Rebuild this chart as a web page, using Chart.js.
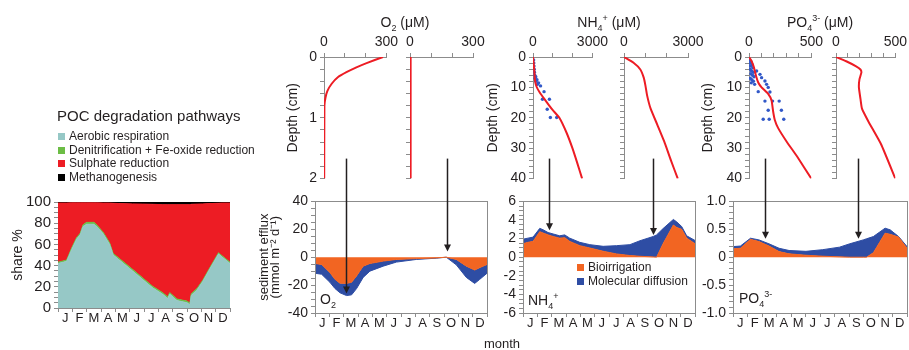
<!DOCTYPE html>
<html>
<head>
<meta charset="utf-8">
<script src="https://cdn.jsdelivr.net/npm/chart.js@4.4.0/dist/chart.umd.min.js"></script>
<style>
  body { margin: 0; background: #fff; }
  #wrap { position: relative; width: 909px; height: 350px; overflow: hidden;
          font-family: "Liberation Sans", Arial, sans-serif; color: #231f20; }
  #wrap canvas { position: absolute; }
  .txt { position: absolute; white-space: nowrap; line-height: 1; font-size: 14px; }
  .ctr { transform: translate(-50%, -50%); }
  .mid { transform: translateY(-50%); }
  sub, sup { font-size: 9px; line-height: 0; }
  .legend { position: absolute; margin: 0; padding: 0; list-style: none; }
  .legend li { height: 13.5px; line-height: 13.5px; white-space: nowrap; }
  .legend span { display: inline-block; width: 7px; height: 7px; margin-right: 4px; }
</style>
</head>
<body>
<div id="wrap">
  <canvas id="c-share" width="240" height="160" style="left:0;top:190px"></canvas>
  <canvas id="c-o2e" width="245" height="160" style="left:250px;top:190px"></canvas>
  <canvas id="c-nhe" width="210" height="160" style="left:495px;top:190px"></canvas>
  <canvas id="c-poe" width="209" height="160" style="left:700px;top:190px"></canvas>
  <canvas id="c-o2a" width="120" height="160" style="left:280px;top:30px"></canvas>
  <canvas id="c-o2b" width="90" height="160" style="left:398px;top:30px"></canvas>
  <canvas id="c-nha" width="130" height="160" style="left:480px;top:30px"></canvas>
  <canvas id="c-nhb" width="95" height="160" style="left:612px;top:30px"></canvas>
  <canvas id="c-poa" width="130" height="160" style="left:695px;top:30px"></canvas>
  <canvas id="c-pob" width="85" height="160" style="left:824px;top:30px"></canvas>
  <canvas id="arrows" width="909" height="350" style="left:0;top:0"></canvas>

  <div class="txt" style="left:57px;top:115px;font-size:15px;transform:translateY(-50%)">POC degradation pathways</div>
  <ul class="legend" id="poc-legend" style="left:58px;top:130px;font-size:12px"></ul>
  <ul class="legend" id="flux-legend" style="left:577px;top:261px;font-size:12px"></ul>

  <div class="txt ctr" style="left:405px;top:22px">O<sub>2</sub> (μM)</div>
  <div class="txt ctr" style="left:609px;top:22px">NH<sub>4</sub><sup>+</sup> (μM)</div>
  <div class="txt ctr" style="left:820px;top:22px">PO<sub>4</sub><sup>3-</sup> (μM)</div>

  <div class="txt mid" style="left:320px;top:299px">O<sub>2</sub></div>
  <div class="txt mid" style="left:528px;top:300px">NH<sub>4</sub><sup>+</sup></div>
  <div class="txt mid" style="left:739px;top:298px">PO<sub>4</sub><sup>3-</sup></div>
  <div class="txt ctr" style="left:502px;top:343px;font-size:13px">month</div>
</div>
<script>
const months = ["J", "F", "M", "A", "M", "J", "J", "A", "S", "O", "N", "D"];

// POC degradation pathways, share %, x in months from 1 Jan
const pocMonth  = [0, 0.6, 0.95, 1.3, 1.55, 1.75, 2.0, 2.5, 2.7, 3.15, 3.6, 3.85, 4.3, 5.2, 5.9, 6.6, 7.3, 7.65, 7.8, 8.3, 9.0, 9.2, 9.3, 9.7, 10.1, 10.6, 11.2, 11.45, 12];
const aerobic   = [42, 44, 55, 65, 69, 77, 79, 79, 77, 70, 60, 50, 45, 35, 27, 19, 13, 9, 13, 7, 5, 3, 12, 17, 25, 37, 51, 48, 42];
const denitFe   = [1.2, 1.2, 1.5, 1.5, 1.5, 1.5, 1.8, 1.8, 1.5, 1.5, 1.5, 1.5, 1.5, 1.5, 1.5, 1.5, 1.5, 1.5, 1.5, 1.5, 1.5, 1.5, 1.5, 1.5, 1.2, 1.2, 1.2, 1.2, 1.2];
const sulphate  = [55.8, 53.8, 42.7, 32.7, 28.7, 20.7, 18.4, 18.4, 20.7, 27.5, 37.5, 47.3, 52, 61.7, 69.5, 77.3, 83, 87, 83, 89, 91, 93, 84.3, 79.5, 72, 60.3, 46.6, 49.8, 55.8];
const methano   = [1, 1, 0.8, 0.8, 0.8, 0.8, 0.8, 0.8, 0.8, 1, 1, 1.2, 1.5, 1.8, 2, 2.2, 2.5, 2.5, 2.5, 2.5, 2.5, 2.5, 2.2, 2, 1.8, 1.5, 1.2, 1, 1];

// pore water profiles (depth cm, concentration µM)
const o2DepthA = [0, 0.1, 0.17, 0.25, 0.33, 0.44, 0.56, 0.67, 0.8, 2];
const o2ConcA  = [284, 205, 156, 108, 68, 37, 16, 7, 2, 1];
const o2DepthB = [0, 2];
const o2ConcB  = [3, 3];

const nhDepthA = [0, 4, 7.4, 9.7, 11.6, 13.8, 15.9, 17.5, 20, 25, 30, 35, 40];
const nhConcA  = [0, 60, 95, 175, 333, 571, 810, 1000, 1330, 1700, 1990, 2240, 2480];
const nhDepthB = [0, 1.9, 4.1, 6.8, 9.4, 12.7, 16.9, 22.3, 27.7, 34, 40];
const nhConcB  = [0, 447, 766, 925, 1005, 1085, 1244, 1563, 1880, 2200, 2520];
const nhDotDepth = [1, 2, 3, 4, 5, 6, 6.5, 7, 7.5, 8, 8.5, 9, 9.5, 11.4, 13.9, 13.9, 17.2, 19.9, 19.9];
const nhDotConc  = [30, 40, 50, 60, 70, 90, 140, 100, 200, 150, 280, 230, 380, 558, 478, 829, 718, 877, 1196];

const poDepthA = [0, 1.4, 3.5, 6.2, 8.4, 10, 12.1, 14.3, 18, 20.7, 23.4, 27.7, 33, 40];
const poConcA  = [0, 21, 40, 56, 74, 101, 154, 181, 194, 207, 234, 300, 390, 500];
const poDepthB = [0, 1.4, 3, 4.1, 5.1, 7.3, 10, 13.7, 17, 21.2, 28.7, 40];
const poConcB  = [0, 86, 166, 206, 214, 198, 193, 206, 219, 273, 380, 500];
const poDotDepth = [1, 1.5, 2, 2.5, 3, 3.5, 4, 4.5, 5, 5.5, 6, 6.5, 7, 7.5, 8, 8.5, 9, 4.6, 5.7, 6.8, 7.9, 9, 10, 11.5, 11.4, 14.5, 14.5, 14.5, 17.5, 17.5, 20.5, 20.5, 20.5];
const poDotConc  = [5, 15, 10, 25, 12, 30, 8, 20, 35, 15, 28, 40, 10, 22, 35, 18, 45, 61, 88, 101, 128, 141, 154, 168, 74, 128, 189, 242, 154, 260, 114, 162, 279];

// sediment efflux (mmol m-2 d-1)
const o2Month = [0, 0.46, 1.04, 1.39, 1.74, 2.2, 2.55, 2.9, 3.36, 3.83, 4.76, 5.68, 7.08, 8.47, 9.16, 9.86, 10.56, 11.14, 11.48, 12];
const o2Bio   = [-4.5, -5.2, -11, -15.8, -18.6, -18.8, -18, -13.4, -6.4, -4.5, -2.8, -1.6, -1, -0.5, 0, -1.6, -6.4, -9.2, -7.5, -5.2];
const o2Diff  = [-7, -7, -7, -6.6, -6.9, -8.7, -9, -9.1, -8.1, -5.5, -3.6, -1.9, -0.6, -0.2, 0, -3.9, -8.1, -9.6, -8.5, -6.3];

const nhMonth = [0, 0.35, 0.7, 1.17, 1.4, 1.75, 2.1, 2.56, 2.91, 3.26, 3.96, 4.66, 5.59, 6.53, 7.46, 8.16, 9.09, 9.32, 9.79, 10.49, 10.72, 11.07, 11.42, 12];
const nhBio   = [1.45, 1.6, 1.7, 2.75, 2.6, 2.4, 2.23, 2.05, 2.1, 1.7, 1.24, 0.99, 0.64, 0.35, 0.18, 0.1, 0.03, 0, 1.5, 3.46, 3.2, 3.0, 2.05, 1.45];
const nhDiff  = [0.49, 0.45, 0.46, 0.35, 0.35, 0.25, 0.27, 0.25, 0.3, 0.35, 0.36, 0.36, 0.53, 0.89, 1.17, 1.67, 2.2, 2.4, 1.6, 0.6, 0.6, 0.3, 0.25, 0.35];

const poMonth = [0, 0.51, 1.21, 1.79, 2.48, 3.18, 3.87, 5.03, 6.19, 7.35, 8.05, 8.98, 9.21, 9.68, 10.49, 10.84, 11.42, 12];
const poBio   = [0.15, 0.16, 0.32, 0.28, 0.2, 0.1, 0.06, 0.035, 0.018, 0.006, 0, 0, 0, 0.08, 0.43, 0.41, 0.36, 0.16];
const poDiff  = [0.04, 0.04, 0.02, 0.03, 0.04, 0.06, 0.06, 0.07, 0.117, 0.174, 0.24, 0.31, 0.33, 0.29, 0.09, 0.08, 0.01, 0.03];

// arrows linking profiles to fluxes: month, flux value at the tip
const arrowMonth = [2.16, 9.21, 1.81, 9.07, 2.2, 8.62];
const arrowTip   = [-26, 4, 2.9, 2.4, 0.33, 0.33];

const gray = "#8c8c8c";
const red = "#ed1c24";
const orange = "#f26522";
const blue = "#2e4da4";
const dotBlue = "#3158c8";
Chart.defaults.font.family = "'Liberation Sans', Arial, sans-serif";
Chart.defaults.color = "#231f20";

const tickFont = { size: 14 };
const grid = { drawOnChartArea: false, color: gray, tickLength: 4 };
const border = { color: gray };
const isMult = (v, m) => Math.abs(v / m - Math.round(v / m)) < 1e-6;
const pts = (xs, ys) => xs.map((x, i) => ({ x: x, y: ys[i] }));

const monthAxis = {
    type: "linear", min: 0, max: 12,
    ticks: {
        stepSize: 0.5, autoSkip: false, maxRotation: 0, padding: -1, font: { size: 13 },
        callback: (v) => (Number.isInteger(v) ? "" : months[Math.floor(v)]),
    },
    grid: { ...grid, tickColor: (c) => (c.tick && Number.isInteger(c.tick.value) ? gray : "rgba(0,0,0,0)") },
    border: border,
};

const framePlugin = {
    id: "frame",
    afterDraw(chart) {
        const { ctx, chartArea: a } = chart;
        ctx.save();
        ctx.strokeStyle = gray;
        ctx.lineWidth = 1;
        ctx.strokeRect(Math.round(a.left) + 0.5, Math.round(a.top) + 0.5, Math.round(a.right - a.left), Math.round(a.bottom - a.top));
        ctx.restore();
    },
};

const area = (label, xs, ys, color, fill) => ({
    label: label, data: pts(xs, ys), backgroundColor: color, borderColor: color,
    borderWidth: 1, pointRadius: 0, fill: fill, tension: 0,
});

// share % of POC degradation
const shareChart = new Chart(document.getElementById("c-share"), {
    type: "line",
    data: {
        datasets: [
            area("Aerobic respiration", pocMonth, aerobic, "#96c8c6", "origin"),
            area("Denitrification + Fe-oxide reduction", pocMonth, denitFe, "#6cbd45", "-1"),
            area("Sulphate reduction", pocMonth, sulphate, red, "-1"),
            area("Methanogenesis", pocMonth, methano, "#000000", "-1"),
        ],
    },
    options: {
        responsive: false, animation: false, events: [],
        layout: { padding: { top: 10, right: 10, left: 0, bottom: 0 } },
        plugins: { legend: { display: false }, tooltip: { enabled: false } },
        scales: {
            x: { ...monthAxis, afterFit: (s) => { s.height = 42; } },
            y: {
                stacked: true, min: 0, max: 100,
                ticks: { stepSize: 5, autoSkip: false, font: { size: 15 }, padding: 3, callback: (v) => (v % 20 === 0 ? v : "") },
                title: { display: true, text: "share %", font: { size: 14 }, padding: { top: 10, bottom: 0 } },
                grid: grid, border: border,
                afterFit: (s) => { s.width = 58; },
            },
        },
    },
});

function makeEfflux(id, xs, bio, diff, yMin, yMax, yStep, yLab, yWidth, padRight, title, fmt) {
    return new Chart(document.getElementById(id), {
        type: "line",
        data: {
            datasets: [
                area("Bioirrigation", xs, bio, orange, "origin"),
                area("Molecular diffusion", xs, diff, blue, "-1"),
            ],
        },
        options: {
            responsive: false, animation: false, events: [],
            layout: { padding: { top: 10, right: padRight, left: 0, bottom: 0 } },
            plugins: { legend: { display: false }, tooltip: { enabled: false } },
            scales: {
                x: { ...monthAxis, afterFit: (s) => { s.height = 37; } },
                y: {
                    stacked: true, min: yMin, max: yMax,
                    ticks: { stepSize: yStep, autoSkip: false, font: tickFont, padding: 3, callback: (v) => (isMult(v, yLab) ? fmt(v) : "") },
                    title: title ? { display: true, text: title, font: { size: 13, lineHeight: 0.85 }, padding: { top: 9, bottom: 0 } } : { display: false },
                    grid: grid, border: border,
                    afterFit: (s) => { s.width = yWidth; },
                },
            },
        },
        plugins: [framePlugin],
    });
}

const o2Eff = makeEfflux("c-o2e", o2Month, o2Bio, o2Diff, -40, 40, 5, 20, 65, 8,
    ["sediment efflux", "(mmol m\u207B\u00B2 d\u207B\u00B9)"], (v) => Math.round(v));
const nhEff = makeEfflux("c-nhe", nhMonth, nhBio, nhDiff, -6, 6, 0.5, 2, 28, 10, null, (v) => Math.round(v));
const poEff = makeEfflux("c-poe", poMonth, poBio, poDiff, -1, 1, 0.1, 0.5, 33, 2, null,
    (v) => (Math.abs(v) < 1e-6 ? "0" : v.toFixed(1)));

function makeProfile(id, o) {
    const datasets = [{
        data: pts(o.conc, o.depth), showLine: true, borderColor: red, borderWidth: 2,
        pointRadius: 0, tension: 0.15, fill: false,
    }];
    if (o.dotDepth) {
        datasets.push({
            data: pts(o.dotConc, o.dotDepth), showLine: false, pointRadius: 1.7,
            backgroundColor: dotBlue, borderWidth: 0,
        });
    }
    return new Chart(document.getElementById(id), {
        type: "scatter",
        data: { datasets },
        options: {
            responsive: false, animation: false, events: [],
            layout: { padding: { top: 0, right: o.padRight, bottom: 8, left: 0 } },
            plugins: { legend: { display: false }, tooltip: { enabled: false } },
            scales: {
                x: {
                    type: "linear", position: "top", min: 0, max: o.xMax,
                    ticks: { stepSize: o.xStep, autoSkip: false, maxRotation: 0, padding: 2, font: tickFont,
                        callback: (v) => (v === 0 || v === o.xMax ? v : "") },
                    grid: grid, border: border,
                    afterFit: (s) => { s.height = 27; },
                },
                y: {
                    type: "linear", reverse: true, min: 0, max: o.yMax,
                    ticks: { stepSize: o.yStep, autoSkip: false, padding: 3, font: tickFont,
                        callback: (v) => (o.labels && isMult(v, o.yLab) ? Math.round(v) : "") },
                    title: { display: o.labels, text: "Depth (cm)", font: { size: 14 }, padding: { top: 5, bottom: 0 } },
                    grid: grid, border: border,
                    afterFit: (s) => { s.width = o.yWidth; },
                },
            },
        },
    });
}

const o2A = makeProfile("c-o2a", { depth: o2DepthA, conc: o2ConcA, xMax: 300, xStep: 100, yMax: 2, yStep: 0.2, yLab: 1, labels: true, yWidth: 44, padRight: 13 });
const o2B = makeProfile("c-o2b", { depth: o2DepthB, conc: o2ConcB, xMax: 300, xStep: 100, yMax: 2, yStep: 0.2, yLab: 1, labels: false, yWidth: 12, padRight: 15 });
const nhA = makeProfile("c-nha", { depth: nhDepthA, conc: nhConcA, dotDepth: nhDotDepth, dotConc: nhDotConc, xMax: 3000, xStep: 1000, yMax: 40, yStep: 2, yLab: 10, labels: true, yWidth: 53, padRight: 14 });
const nhB = makeProfile("c-nhb", { depth: nhDepthB, conc: nhConcB, xMax: 3000, xStep: 1000, yMax: 40, yStep: 2, yLab: 10, labels: false, yWidth: 12, padRight: 19 });
const poA = makeProfile("c-poa", { depth: poDepthA, conc: poConcA, dotDepth: poDotDepth, dotConc: poDotConc, xMax: 500, xStep: 100, yMax: 40, yStep: 2, yLab: 10, labels: true, yWidth: 54, padRight: 13 });
const poB = makeProfile("c-pob", { depth: poDepthB, conc: poConcB, xMax: 500, xStep: 100, yMax: 40, yStep: 2, yLab: 10, labels: false, yWidth: 12, padRight: 11 });

// legends
const fillLegend = (ul, chart) => {
    chart.data.datasets.forEach((d) => {
        let li = document.createElement("li");
        li.innerHTML = `<span style="background:${d.backgroundColor}"></span>${d.label}`;
        ul.appendChild(li);
    });
};
fillLegend(document.getElementById("poc-legend"), shareChart);
fillLegend(document.getElementById("flux-legend"), nhEff);

// arrows from profile panels down to the flux curves
const offset = (chart) => chart.canvas.getBoundingClientRect();
const wrapBox = document.getElementById("wrap").getBoundingClientRect();
const arrowPairs = [[o2A, o2Eff], [o2B, o2Eff], [nhA, nhEff], [nhB, nhEff], [poA, poEff], [poB, poEff]];
const actx = document.getElementById("arrows").getContext("2d");
actx.strokeStyle = "#231f20";
actx.fillStyle = "#231f20";
actx.lineWidth = 1.5;
arrowPairs.forEach(([prof, eff], i) => {
    const pb = offset(prof), eb = offset(eff);
    const x = Math.round(eb.left - wrapBox.left + eff.scales.x.getPixelForValue(arrowMonth[i])) + 0.5;
    const y0 = pb.top - wrapBox.top + prof.chartArea.bottom - 20;
    const y1 = eb.top - wrapBox.top + eff.scales.y.getPixelForValue(arrowTip[i]);
    actx.beginPath();
    actx.moveTo(x, y0);
    actx.lineTo(x, y1 - 5);
    actx.stroke();
    actx.beginPath();
    actx.moveTo(x - 3.5, y1 - 7);
    actx.lineTo(x + 3.5, y1 - 7);
    actx.lineTo(x, y1);
    actx.closePath();
    actx.fill();
});
</script>
</body>
</html>
